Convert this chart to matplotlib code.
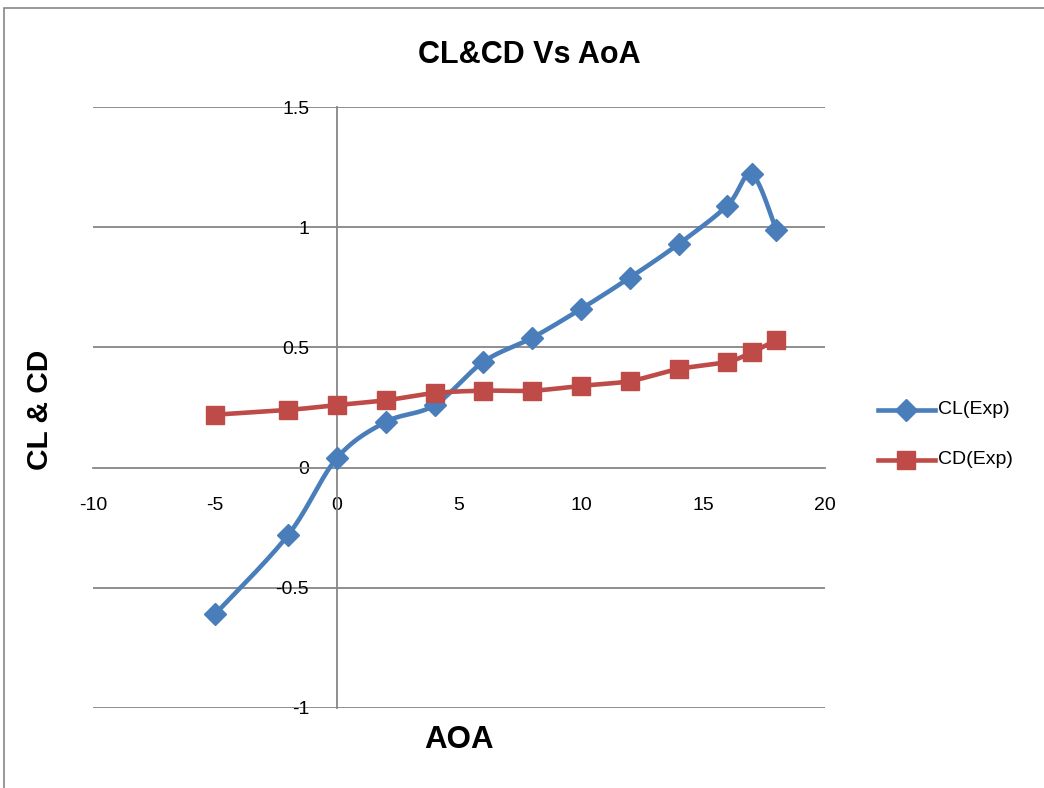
import numpy as np
import matplotlib.pyplot as plt
from matplotlib.patches import Rectangle

aoa = [-5, -2, 0, 2, 4, 6, 8, 10, 12, 14, 16, 17, 18]
cl = [-0.61, -0.28, 0.04, 0.19, 0.26, 0.44, 0.54, 0.66, 0.79, 0.93, 1.09, 1.22, 0.99]
cd = [0.22, 0.24, 0.26, 0.28, 0.31, 0.32, 0.32, 0.34, 0.36, 0.41, 0.44, 0.48, 0.53]

x_ticks = [-10, -5, 0, 5, 10, 15, 20]
y_ticks = [-1, -0.5, 0, 0.5, 1, 1.5]
y_tick_labels = ["-1", "-0.5", "0", "0.5", "1", "1.5"]

blue = "#4A7EBB"
red = "#BE4B48"
grey = "#868686"

plt.rcParams['font.family'] = ['Liberation Sans', 'DejaVu Sans']
plt.rcParams['axes.unicode_minus'] = False


def smooth(x, y, n=30):
    # excel-style smoothed line: bezier segments with catmull-rom tangents
    p = np.column_stack([x, y]).astype(float)
    p = np.vstack([p[0], p, p[-1]])
    out = []
    t = np.linspace(0, 1, n)[:, None]
    for i in range(1, len(p) - 2):
        p0, p3 = p[i], p[i + 1]
        c1 = p0 + (p[i + 1] - p[i - 1]) / 6
        c2 = p3 - (p[i + 2] - p[i]) / 6
        seg = ((1 - t) ** 3) * p0 + 3 * ((1 - t) ** 2) * t * c1 + 3 * (1 - t) * t ** 2 * c2 + t ** 3 * p3
        out.append(seg if i == 1 else seg[1:])
    s = np.vstack(out)
    return s[:, 0], s[:, 1]


fig = plt.figure(figsize=(10.44, 7.88), dpi=100)
fig.patches.append(Rectangle((4 / 1044, -0.1), 1.2, 1.1 - 8 / 788, transform=fig.transFigure,
                             fill=False, edgecolor=grey, linewidth=1.2))
ax = fig.add_axes([93 / 1044, 1 - 708 / 788, 732 / 1044, 601 / 788])

ax.set_xlim(-10, 20)
ax.set_ylim(-1, 1.5)
ax.set_xticks(x_ticks)
ax.set_yticks(y_ticks)
ax.set_yticklabels(y_tick_labels)

for yv in y_ticks:
    if yv != 0:
        ax.axhline(yv, color=grey, linewidth=1.3, zorder=0)

for s in ['top', 'right']:
    ax.spines[s].set_visible(False)
ax.spines['left'].set_position(('data', 0))
ax.spines['bottom'].set_position(('data', 0))
ax.spines['left'].set_color(grey)
ax.spines['bottom'].set_color(grey)
ax.spines['left'].set_linewidth(1.3)
ax.spines['bottom'].set_linewidth(1.3)
ax.tick_params(length=0, labelsize=14)
ax.tick_params(axis='x', pad=21)
ax.tick_params(axis='y', pad=20)

sx, sy = smooth(aoa, cl)
ax.plot(sx, sy, color=blue, linewidth=3.3, zorder=3)
ax.plot(aoa, cl, linestyle='none', marker='D', markersize=11, color=blue, zorder=4)
sx, sy = smooth(aoa, cd)
ax.plot(sx, sy, color=red, linewidth=3.3, zorder=3)
ax.plot(aoa, cd, linestyle='none', marker='s', markersize=13, color=red, zorder=4)

fig.text(529 / 1044, 1 - 55 / 788, "CL&CD Vs AoA", ha='center', va='center', fontsize=22, fontweight='bold')
fig.text(40 / 1044, 1 - 410 / 788, "CL & CD", ha='center', va='center', rotation=90, fontsize=21.5, fontweight='bold')
fig.text(459 / 1044, 1 - 740 / 788, "AOA", ha='center', va='center', fontsize=22.5, fontweight='bold')

# legend
for yy, col, mk, ms, lab in [(410, blue, 'D', 11, "CL(Exp)"), (460, red, 's', 13, "CD(Exp)")]:
    fy = 1 - yy / 788
    fig.add_artist(plt.Line2D([878 / 1044, 935 / 1044], [fy, fy], color=col, linewidth=3.3,
                              transform=fig.transFigure))
    fig.add_artist(plt.Line2D([906 / 1044], [fy], marker=mk, markersize=ms, color=col,
                              transform=fig.transFigure))
    fig.text(938 / 1044, fy, lab, ha='left', va='center', fontsize=14)

fig.savefig("out.png", dpi=100)
